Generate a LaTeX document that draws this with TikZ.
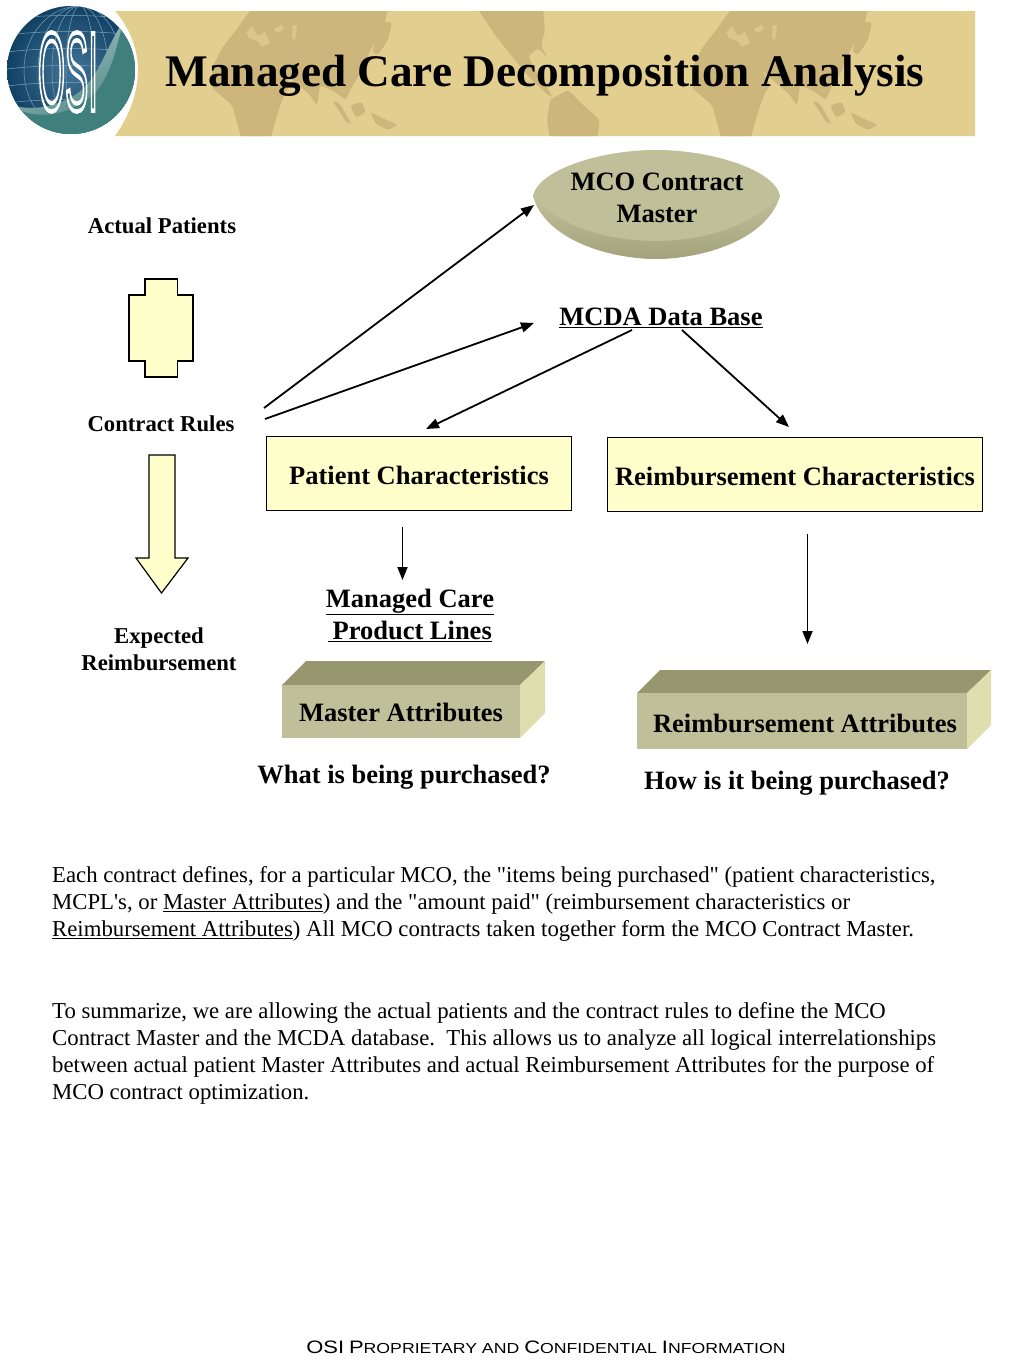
\documentclass[tikz,border=0pt]{standalone}
\usepackage{fontspec}
\usepackage{graphicx}
\setmainfont{Liberation Serif}
\newfontfamily\footfont{Liberation Sans}
\usetikzlibrary{arrows.meta}
\definecolor{bannerbg}{HTML}{E2CE8F}
\definecolor{mapc}{HTML}{CDB67B}
\definecolor{mapl}{HTML}{DCC78B}
\definecolor{cream}{HTML}{FFFFCC}
\definecolor{olivefront}{HTML}{BFBF99}
\definecolor{olivetop}{HTML}{97976F}
\definecolor{oliveside}{HTML}{DEDEAE}
\definecolor{globeblue}{HTML}{14527F}
\definecolor{teal}{HTML}{3F7F7C}
\newcommand{\fs}[1]{\fontsize{#1}{#1}\selectfont}
\newcommand{\ftbig}[1]{{\fs{18}#1}}
\newcommand{\dq}{\XeTeXglyph\XeTeXcharglyph"22\relax}
\newcommand{\sq}{\XeTeXglyph\XeTeXcharglyph"27\relax}
\tikzset{
  x=1pt,y=-1pt,
  conn/.style={line width=1.8pt,-{Triangle[length=13pt,width=10pt]}},
  creambox/.style={draw=black,line width=1.2pt,fill=cream},
  lbl/.style={font=\bfseries\fs{22.7},align=center,inner sep=0pt},
  biglbl/.style={font=\bfseries\fs{26.5},align=center,inner sep=0pt},
  bodytxt/.style={font=\fs{22.75},align=left,anchor=north west,inner sep=0pt},
  mapfill/.style={fill=mapc,draw=none,rounded corners=3pt},
  mapspot/.style={fill=mapl,draw=none},
  gridline/.style={white!45!globeblue,line width=.5pt}
}
\newcommand{\oldworld}[1]{%
  \begin{scope}[xshift=#1 pt]
    \fill[mapfill] (732,8) -- (716,30) -- (702,48) -- (692,68) -- (692,88) -- (712,105) -- (722,140) -- (750,140) -- (758,112) -- (764,95) -- (770,85) -- (762,70) -- (775,82) -- (790,95) -- (797,106) -- (800,85) -- (815,92) -- (826,100) -- (830,90) -- (845,65) -- (850,50) -- (862,35) -- (868,8) -- cycle;
    \fill[mapfill] (812,100) -- (820,104) -- (832,125) -- (826,122) -- cycle;
    \fill[mapfill] (830,105) -- (842,102) -- (846,112) -- (836,118) -- cycle;
    \fill[mapfill] (850,112) -- (862,118) -- (878,125) -- (868,130) -- (856,124) -- cycle;
    \fill[mapfill] (863,22) -- (872,22) -- (868,40) -- (858,55) -- (852,52) -- cycle;
    \fill[mapspot] (726,32) -- (732,26) -- (738,36) -- (745,32) -- (750,43) -- (742,47) -- (736,40) -- (729,38) -- cycle;
    \fill[mapspot] (754,29) -- (762,24) -- (764,29) -- (757,33) -- cycle;
    \fill[mapspot] (773,25) -- (777,25) -- (775,40) -- (772,38) -- cycle;
  \end{scope}}
\begin{document}
\begin{tikzpicture}
\useasboundingbox (0,0) rectangle (1024,1365);
\fill[white] (0,0) rectangle (1024,1365);
% banner
\begin{scope}
  \path[clip] (115,11) -- (975,11) -- (975,136) -- (115,136) .. controls (130,115) and (138,92) .. (138,70) .. controls (138,50) and (130,28) .. (115,11) -- cycle;
  \fill[bannerbg] (100,0) rectangle (980,140);
  \oldworld{0}
  \oldworld{-480}
  % Americas
  \fill[mapfill] (477,8) -- (495,35) -- (515,60) -- (530,78) -- (550,97) -- (552,95) -- (536,72) -- (528,56) -- (538,48) -- (548,58) -- (541,46) -- (545,30) -- (543,8) -- cycle;
  \fill[mapfill] (550,100) -- (568,90) -- (582,104) -- (600,120) -- (597,140) -- (550,140) -- (547,120) -- cycle;
\end{scope}
% logo
\begin{scope}
  \path[clip] (71,70) circle (64);
  \shade[inner color=globeblue!80!white,outer color=globeblue!80!black] (7,6) rectangle (135,134);
  \foreach \r in {14,28,42,56}
    \draw[gridline] (80,70) ellipse (\r pt and 64pt);
  \foreach \y in {-50,-34,-17,0,17,34,50}
    \draw[gridline] (0,70+\y) .. controls (40,64+\y) and (100,64+\y) .. (140,70+\y);
  \shade[left color=white!55!teal,right color=teal,shading angle=30]
    (8,104) .. controls (30,112) and (62,108) .. (84,88) .. controls (100,72) and (108,45) .. (121,25) -- (140,25) -- (140,140) -- (0,140) -- (0,104) -- cycle;
  \fill[teal] (12,107) .. controls (40,122) and (72,114) .. (94,94) .. controls (110,78) and (116,50) .. (122,27) -- (140,30) -- (140,140) -- (0,140) -- cycle;
\end{scope}
\node[inner sep=0pt,text=white] (logotext) at (68,72) {\scalebox{.31}[1]{\special{pdf:code 1 Tr 1 1 1 RG 4.5 w}\footfont\fs{112}OSI\special{pdf:code 0 Tr 0 0 0 RG 1 w}}};
% title
\node[inner sep=0pt,font=\bfseries\fs{45.2}] (title) at (545,76) {Managed Care Decomposition Analysis};
% disc
\shade[top color=olivefront,bottom color=olivetop!70!olivefront]
  (533,196) .. controls (545,240) and (610,259) .. (656,259) .. controls (702,259) and (767,240) .. (780,196) -- cycle;
\fill[olivefront] (533,196) .. controls (538,170) and (600,150) .. (656,150) .. controls (712,150) and (775,170) .. (780,196) .. controls (750,228) and (700,241) .. (656,241) .. controls (612,241) and (560,228) .. (533,196) -- cycle;
\node[biglbl] (disc) at (657,197.5) {MCO Contract\\[5.5pt]Master};
% left column
\node[lbl] (actual) at (162,226) {Actual Patients};
\node[lbl] (rules) at (161,424) {Contract Rules};
\node[lbl] (expected) at (159,649) {Expected\\[4.3pt]Reimbursement};
\draw[creambox] (145,279) -- (177.5,279) -- (177.5,295) -- (193,295) -- (193,361) -- (177.5,361) -- (177.5,377) -- (145,377) -- (145,361) -- (129,361) -- (129,295) -- (145,295) -- cycle;
\draw[creambox] (149,455) -- (175,455) -- (175,558) -- (188,558) -- (161.5,593) -- (136,558) -- (149,558) -- cycle;
% MCDA
\node[biglbl] (mcda) at (661,318) {\underline{MCDA Data Base}};
% boxes
\node[creambox,minimum width=305pt,minimum height=74.5pt,inner sep=0pt,outer sep=0pt,font=\bfseries\fs{26.5}] (patient) at (419,473.5) {\raisebox{-2pt}[\height][\depth]{Patient Characteristics}};
\node[creambox,minimum width=375pt,minimum height=74.5pt,inner sep=0pt,outer sep=0pt,font=\bfseries\fs{26.5}] (reimb) at (795,474.5) {\raisebox{-1.5pt}[\height][\depth]{Reimbursement Characteristics}};
\node[biglbl] (lines) at (410,615) {\underline{Managed Care}\\[5.5pt]\underline{\,Product Lines}};
% cuboids
\fill[olivetop] (282,685) -- (306,661) -- (545,661) -- (520,685) -- cycle;
\fill[oliveside] (520,685) -- (545,661) -- (545,713) -- (520,738) -- cycle;
\fill[olivefront] (282,685) rectangle (520,738);
\node[biglbl] (master) at (401,712) {Master Attributes};
\fill[olivetop] (637,693) -- (660,670) -- (991,670) -- (967,693) -- cycle;
\fill[oliveside] (967,693) -- (991,670) -- (991,725) -- (967,749) -- cycle;
\fill[olivefront] (637,693) rectangle (967,749);
\node[biglbl] (rattr) at (805,723) {Reimbursement Attributes};
\node[biglbl] (what) at (404,777) {What is being purchased?};
\node[biglbl] (how) at (797,783) {How is it being purchased?};
% connector ends
\coordinate (s1) at (264,408);
\coordinate (s2) at (265,419);
\coordinate (discw) at (534,205);
\coordinate (mcdaw) at (534,323);
\coordinate (m1) at (632,330);
\coordinate (m2) at (682,330);
\coordinate (patt) at (426,429);
\coordinate (reit) at (789,427);
\coordinate (pb) at (402.5,527);
\coordinate (lt) at (402.5,580);
\coordinate (rb) at (807.5,534);
\coordinate (rt) at (807.5,644);
\draw[conn] (s1) -- (discw);
\draw[conn] (s2) -- (mcdaw);
\draw[conn] (m1) -- (patt);
\draw[conn] (m2) -- (reit);
\draw[conn] (pb) -- (lt);
\draw[conn] (rb) -- (rt);
% body
\node[bodytxt] (para1) at (52,866) {Each contract defines, for a particular MCO, the \dq items being purchased\dq{} (patient characteristics,\\[4.5pt]
MCPL\sq s, or \underline{Master Attributes}) and the \dq amount paid\dq{} (reimbursement characteristics or\\[4.5pt]
\underline{Reimbursement Attributes}) All MCO contracts taken together form the MCO Contract Master.};
\node[bodytxt] (para2) at (52,1002) {To summarize, we are allowing the actual patients and the contract rules to define the MCO\\[4.5pt]
Contract Master and the MCDA database.\ \ This allows us to analyze all logical interrelationships\\[4.5pt]
between actual patient Master Attributes and actual Reimbursement Attributes for the purpose of\\[4.5pt]
MCO contract optimization.};
% footer
\node[inner sep=0pt,font=\footfont\fs{14.5}] (footer) at (546,1347) {\scalebox{1.22}[1]{\ftbig{OSI} \ftbig{P}ROPRIETARY AND \ftbig{C}ONFIDENTIAL \ftbig{I}NFORMATION}};
\end{tikzpicture}
\end{document}
